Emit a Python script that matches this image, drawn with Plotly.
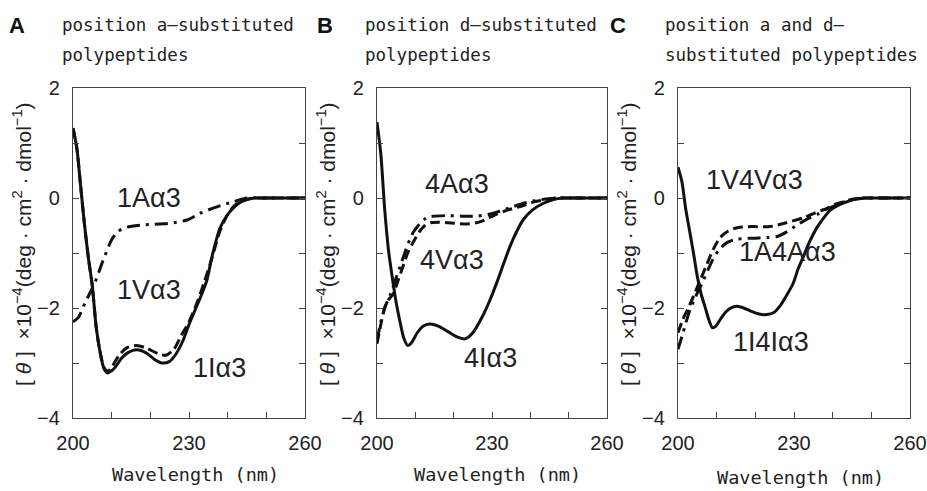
import plotly.graph_objects as go

# ---------------- data ----------------
# Panel A
wl_A_1I = [200, 201, 202, 203, 204, 205, 206, 207, 208, 209, 210, 211, 212.5, 214, 216.5, 219, 221, 223, 225,
           226.5, 228.4, 230, 231.5, 233, 234.6, 236, 238, 240, 241.5, 243, 245, 247, 250, 255, 260]
val_A_1I = [1.27, 0.9, 0.2, -0.5, -1.1, -1.6, -2.35, -2.8, -3.1, -3.18, -3.14, -3.07, -2.92, -2.82, -2.76, -2.82,
            -2.93, -3.0, -2.97, -2.85, -2.6, -2.3, -2.05, -1.8, -1.5, -1.05, -0.55, -0.3, -0.18, -0.09, -0.03, 0, 0, 0, 0]

wl_A_1V = [200, 201, 202, 203, 204, 205, 206, 207, 208, 209, 210, 212, 214, 216.5, 219, 222, 224, 226,
           228, 230, 232, 234, 236, 238, 240, 242, 245, 248, 252, 260]
val_A_1V = [1.27, 0.9, 0.2, -0.5, -1.1, -1.6, -2.35, -2.8, -3.08, -3.15, -3.08, -2.85, -2.72, -2.68, -2.73,
            -2.83, -2.86, -2.76, -2.5, -2.25, -1.92, -1.52, -1.08, -0.6, -0.3, -0.12, -0.02, 0, 0, 0]

wl_A_1A = [200, 201.3, 203.1, 205.7, 207.8, 210, 211.6, 214, 218, 225, 229.5, 232.8, 237.2, 241.4, 245, 250, 260]
val_A_1A = [-2.25, -2.18, -1.91, -1.53, -1.13, -0.76, -0.61, -0.53, -0.49, -0.46, -0.4, -0.28, -0.16, -0.07, 0, 0, 0]

# Panel B
wl_B_4I = [200, 201, 202, 203, 204, 205, 206, 207, 208, 209, 210.5, 212, 213.8, 216, 218.5, 221, 223, 225,
           227.6, 229.5, 231.3, 233, 234.7, 236.5, 238.1, 240.5, 243.3, 246, 248.5, 252, 260]
val_B_4I = [1.38, 0.8, -0.2, -0.95, -1.45, -1.9, -2.25, -2.55, -2.68, -2.63, -2.45, -2.33, -2.29, -2.33, -2.43,
            -2.53, -2.56, -2.45, -2.14, -1.85, -1.53, -1.2, -0.88, -0.6, -0.4, -0.22, -0.1, -0.03, 0, 0, 0]

wl_B_4V = [200, 201, 202, 203, 204.2, 205.5, 206.8, 208, 209.4, 211, 212.5, 214, 216, 220, 224, 227, 231,
           234, 238, 241, 244, 247, 252, 260]
val_B_4V = [-2.65, -2.3, -2.0, -1.85, -1.75, -1.5, -1.24, -1.0, -0.81, -0.62, -0.5, -0.45, -0.44, -0.46,
            -0.47, -0.43, -0.3, -0.22, -0.14, -0.07, -0.03, 0, 0, 0]

wl_B_4A = [200, 201, 202, 203.5, 205, 206.5, 208, 209.5, 211, 212.5, 214, 218, 222, 226, 229, 232, 235,
           238, 241, 244, 247, 252, 260]
val_B_4A = [-2.6, -2.25, -2.0, -1.75, -1.45, -1.15, -0.85, -0.62, -0.48, -0.38, -0.34, -0.32, -0.33, -0.33,
            -0.3, -0.24, -0.17, -0.1, -0.05, -0.02, 0, 0, 0]

# Panel C
wl_C_1I4I = [200, 201, 202, 202.8, 204, 205, 206, 207.2, 208, 208.9, 209.8, 211, 212.5, 214, 215.3, 217, 219,
             221, 223, 224.8, 226.4, 228, 229.8, 231, 232.4, 234, 236, 237.7, 239.4, 241.5, 243.6, 246, 248, 252, 260]
val_C_1I4I = [0.56, 0.3, -0.2, -0.52, -1.0, -1.43, -1.75, -2.03, -2.22, -2.36, -2.33, -2.2, -2.06, -1.99, -1.97,
              -2.0, -2.06, -2.11, -2.12, -2.08, -1.96, -1.78, -1.55, -1.3, -1.07, -0.8, -0.53, -0.36, -0.22, -0.13,
              -0.07, -0.02, 0, 0, 0]

wl_C_1V4V = [200, 201.3, 203, 205, 207.5, 209, 210.9, 213, 215.3, 219, 223.8, 228, 232.4, 235.5, 238.5, 240.5,
             242.7, 245, 248, 252, 260]
val_C_1V4V = [-2.45, -2.2, -1.95, -1.62, -1.2, -0.95, -0.72, -0.6, -0.54, -0.52, -0.52, -0.45, -0.36, -0.27,
              -0.19, -0.12, -0.07, -0.02, 0, 0, 0]

wl_C_1A4A = [200, 201.3, 203, 204.5, 206.2, 207.8, 209, 210.5, 212.5, 215, 219.4, 223, 225.6, 228, 230.8, 233.5,
             236, 238.5, 241, 243.5, 246, 249, 252, 260]
val_C_1A4A = [-2.75, -2.45, -2.05, -1.8, -1.55, -1.3, -1.12, -0.95, -0.82, -0.75, -0.73, -0.72, -0.7, -0.62,
              -0.49, -0.38, -0.3, -0.2, -0.13, -0.06, -0.02, 0, 0, 0]

# labels: (text, wavelength, value)
labels_A = [("1A\u03b13", 219.7, 0.0), ("1V\u03b13", 219.7, -1.67), ("1I\u03b13", 237.8, -3.09)]
labels_B = [("4A\u03b13", 220.9, 0.25), ("4V\u03b13", 219.6, -1.13), ("4I\u03b13", 229.7, -2.91)]
labels_C = [("1V4V\u03b13", 219.7, 0.33), ("1A4A\u03b13", 228.4, -0.98), ("1I4I\u03b13", 224.0, -2.62)]

panel_letters = ["A", "B", "C"]
panel_titles = [["position a\u2013substituted", "polypeptides"],
                ["position d\u2013substituted", "polypeptides"],
                ["position a and d\u2013", "substituted polypeptides"]]

x_range = [200, 260]
y_range = [-4, 2]
x_major, x_minor = 30, 10
y_major, y_minor = 2, 1

x_title = "Wavelength (nm)"
y_title = "[ <i>\u03b8</i> ]  \u00d710<sup>\u22124</sup>(deg \u00b7 cm<sup>2</sup> \u00b7 dmol<sup>\u22121</sup>)"

# ---------------- layout geometry (pixels) ----------------
W, H = 927, 491
px_left = [73, 377, 678]
px_right = [305, 607, 910]
px_top, px_bottom = 88, 418

SOLID = dict(color="#111", width=3)
DASH = dict(color="#111", width=3, dash="10px,5px")
DASHDOT = dict(color="#111", width=3, dash="13px,6px,3px,6px")

fig = go.Figure()

series = [
    (1, wl_A_1A, val_A_1A, DASHDOT), (1, wl_A_1V, val_A_1V, DASH), (1, wl_A_1I, val_A_1I, SOLID),
    (2, wl_B_4A, val_B_4A, DASHDOT), (2, wl_B_4V, val_B_4V, DASH), (2, wl_B_4I, val_B_4I, SOLID),
    (3, wl_C_1A4A, val_C_1A4A, DASHDOT), (3, wl_C_1V4V, val_C_1V4V, DASH), (3, wl_C_1I4I, val_C_1I4I, SOLID),
]
for k, xs, ys, ln in series:
    suffix = "" if k == 1 else str(k)
    fig.add_trace(go.Scatter(x=xs, y=ys, mode="lines", line=dict(shape="spline", smoothing=0.7, **ln),
                             xaxis="x" + suffix, yaxis="y" + suffix, showlegend=False, hoverinfo="skip"))

tickfont = dict(family="Liberation Sans, Arial, sans-serif", size=20, color="#222")
layout = dict(width=W, height=H, margin=dict(l=0, r=0, t=0, b=0, autoexpand=False), paper_bgcolor="white",
              plot_bgcolor="white", showlegend=False)
annotations = []
for i in range(3):
    suffix = "" if i == 0 else str(i + 1)
    layout["xaxis" + suffix] = dict(
        domain=[px_left[i] / W, px_right[i] / W], range=x_range, anchor="y" + suffix, automargin=False,
        tick0=x_range[0], dtick=x_major, ticks="inside", ticklen=6, tickwidth=1, tickcolor="#444",
        minor=dict(dtick=x_minor, tick0=x_range[0], ticks="inside", ticklen=6, tickwidth=1, tickcolor="#444",
                   showgrid=False),
        showline=True, linecolor="#444", linewidth=1.2, mirror=True, showgrid=False, zeroline=False,
        tickfont=tickfont, ticklabelstandoff=7)
    layout["yaxis" + suffix] = dict(
        domain=[1 - px_bottom / H, 1 - px_top / H], range=y_range, anchor="x" + suffix, automargin=False,
        tick0=y_range[0], dtick=y_major, ticks="inside", ticklen=6, tickwidth=1, tickcolor="#444",
        minor=dict(dtick=y_minor, tick0=y_range[0], ticks="inside", ticklen=6, tickwidth=1, tickcolor="#444",
                   showgrid=False),
        showline=True, linecolor="#444", linewidth=1.2, mirror="ticks", showgrid=False, zeroline=False,
        tickfont=tickfont, ticklabelstandoff=8)
    # y title
    annotations.append(dict(text=y_title, x=(px_left[i] - 51) / W, y=1 - 244 / H, xref="paper", yref="paper",
                            textangle=-90, showarrow=False, xanchor="center", yanchor="middle",
                            font=dict(family="Liberation Sans, Arial, sans-serif", size=21, color="#222")))
    # x title
    cx = (px_left[i] + px_right[i]) / 2 + 6
    annotations.append(dict(text=x_title, x=cx / W, y=1 - (474 + (3 if i == 2 else 0)) / H,
                            xref="paper", yref="paper", showarrow=False, xanchor="center", yanchor="middle",
                            font=dict(family="DejaVu Sans Mono, monospace", size=18.5, color="#222")))

letter_x = [17, 325, 618]
title_x = [60, 363, 663]
for i in range(3):
    annotations.append(dict(text="<b>" + panel_letters[i] + "</b>", x=letter_x[i] / W, y=1 - 26 / H,
                            xref="paper", yref="paper", showarrow=False, xanchor="center", yanchor="middle",
                            font=dict(family="Liberation Sans, Arial, sans-serif", size=22, color="#111")))
    for j, line in enumerate(panel_titles[i]):
        annotations.append(dict(text=line, x=title_x[i] / W, y=1 - (25 + 30 * j) / H,
                                xref="paper", yref="paper", showarrow=False, xanchor="left", yanchor="middle",
                                font=dict(family="DejaVu Sans Mono, monospace", size=17.5, color="#222")))

for k, labs in enumerate([labels_A, labels_B, labels_C]):
    suffix = "" if k == 0 else str(k + 1)
    for txt, lx, ly in labs:
        annotations.append(dict(text=txt, x=lx, y=ly, xref="x" + suffix, yref="y" + suffix, showarrow=False,
                                xanchor="center", yanchor="middle",
                                font=dict(family="Liberation Sans, Arial, sans-serif", size=27, color="#222")))

layout["annotations"] = annotations
fig.update_layout(**layout)
fig.write_html("out.html", config={"displayModeBar": False},
               post_script="document.body.style.margin='0';document.body.style.overflow='hidden';")
